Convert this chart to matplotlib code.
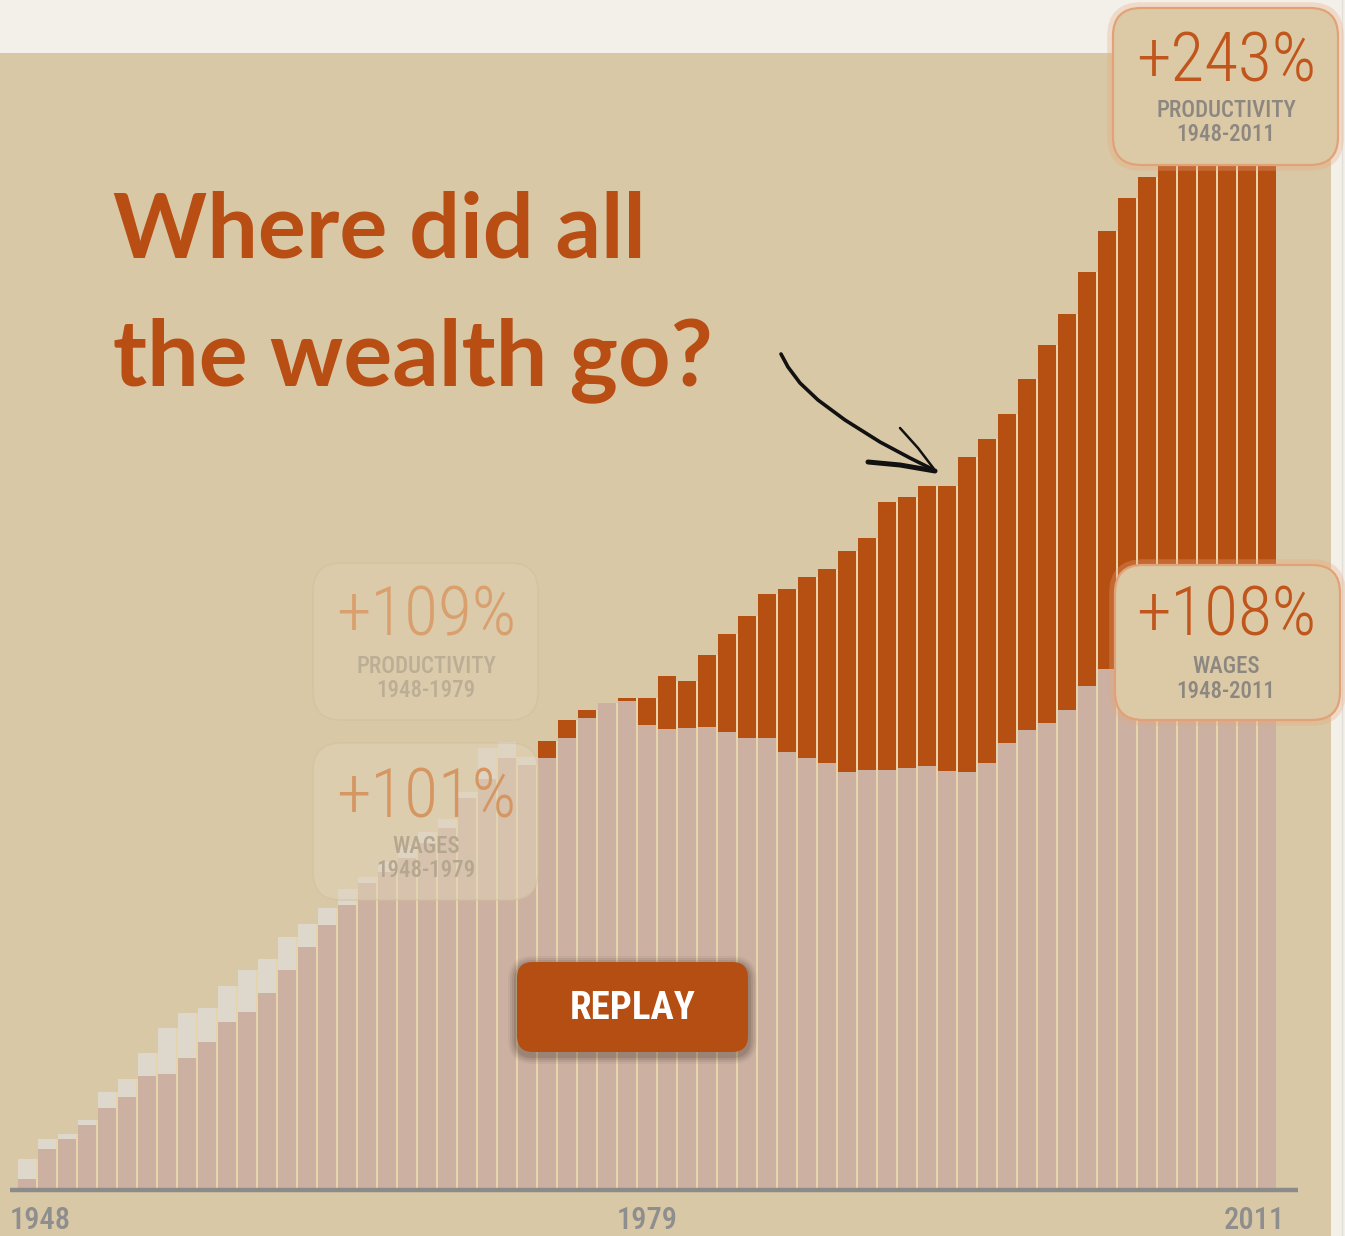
import numpy as np
import matplotlib
matplotlib.use("Agg")
import matplotlib.pyplot as plt
import matplotlib.transforms as mtransforms
from matplotlib.patches import FancyBboxPatch, Rectangle
from matplotlib.lines import Line2D
from matplotlib import font_manager as fm

# ---------------- data (cumulative % growth since 1948) ----------------
years = list(range(1949, 2012))
wages = [1.9, 8.6, 10.8, 13.9, 17.7, 20.3, 24.9, 25.3, 29.0, 32.4,
         36.9, 39.2, 43.4, 48.4, 53.5, 58.4, 62.9, 67.7, 70.2, 73.3,
         76.7, 79.9, 86.6, 91.0, 95.5, 94.0, 95.6, 100.1, 104.4, 107.8,
         108.3, 102.9, 102.0, 102.3, 102.4, 101.4, 100.0, 100.0, 97.0, 95.6,
         94.4, 92.5, 92.8, 93.0, 93.3, 93.8, 92.7, 92.5, 94.4, 98.8,
         101.8, 103.3, 106.2, 111.6, 115.3, 117.0, 118.0, 119.0, 118.0, 117.0,
         114.0, 110.0, 108.0]
productivity = [6.4, 10.8, 11.9, 15.1, 21.3, 24.2, 29.9, 35.6, 39.0, 40.1,
                45.0, 48.4, 50.8, 55.8, 58.7, 62.3, 66.4, 69.2, 72.4, 76.0,
                79.1, 82.0, 88.0, 97.7, 99.2, 95.8, 99.4, 104.0, 106.2, 107.8,
                109.0, 109.0, 113.8, 112.7, 118.4, 123.1, 127.1, 132.0, 133.1, 135.8,
                137.6, 141.6, 144.4, 152.4, 153.6, 156.1, 156.1, 162.4, 166.4, 172.0,
                179.8, 187.3, 194.2, 203.6, 212.7, 220.0, 224.7, 228.0, 231.0, 234.0,
                239.0, 242.0, 243.0]
era_start = 1975            # productivity gap drawn in orange from here on
tick_labels = ["1948", "1979", "2011"]
title_lines = ["Where did all", "the wealth go?"]
callouts = [("+243%", "PRODUCTIVITY", "1948-2011"),
            ("+108%", "WAGES", "1948-2011"),
            ("+109%", "PRODUCTIVITY", "1948-1979"),
            ("+101%", "WAGES", "1948-1979")]
button_label = "REPLAY"

# ---------------- fonts ----------------
names = {f.name for f in fm.fontManager.ttflist}
def pick(cands, default="DejaVu Sans"):
    for c in cands:
        if c in names:
            return c
    return default
title_font = pick(["Lato", "Open Sans", "Roboto"])
cond_font = pick(["Roboto Condensed", "Open Sans Condensed", "Liberation Sans Narrow",
                  "Roboto"])

# ---------------- colours ----------------
BG_TOP = "#F3F0E9"
BG = "#D9C8A6"
WAGE = "#CCB1A2"
GAP_OLD = "#DED7CB"
GAP_NEW = "#B64F12"
TITLE = "#B84E14"
AXIS = "#8B8B8B"
LABEL = "#8E8E8E"
STRIPE = "#E8D6AC"

W, H = 1345, 1236
fig = plt.figure(figsize=(W / 100, H / 100), dpi=100)
fig.patch.set_facecolor(BG_TOP)
pix = mtransforms.Affine2D().scale(1 / W, -1 / H).translate(0, 1) + fig.transFigure

fig.patches.append(Rectangle((0, 53), 1331, H - 53, transform=pix,
                             facecolor=BG, edgecolor="none", zorder=-5))
fig.lines.append(Line2D([1342, 1342], [0, H], transform=pix, color="#E2DFD8", lw=1,
                        zorder=-4))

ax = fig.add_axes([0, 0, 1, 1])
ax.set_facecolor("none")
ax.set_zorder(1)
PXU = 4.5   # pixels per percent
ax.set_xlim(-27 / 20, (W - 27) / 20)
ax.set_ylim(-(H - 1188) / PXU, 1188 / PXU)
ax.axis("off")

x = np.arange(len(years))
wg = np.array(wages)
pr = np.array(productivity)
cols = [GAP_NEW if y >= era_start else GAP_OLD for y in years]
ax.bar(x, wg, width=0.9, color=WAGE, zorder=2, linewidth=0)
ax.bar(x, pr - wg, bottom=wg, width=0.9, color=cols, zorder=2, linewidth=0)
ax.vlines(x[:-1] + 0.5, 0, np.minimum(pr[:-1], pr[1:]), color=STRIPE, lw=1.3, zorder=2.5)
ax.plot([-0.85, 63.55], [-0.45, -0.45], color=AXIS, lw=3.2, solid_capstyle="butt", zorder=3)

# tick labels
ty = -(1229 - 1188) / PXU
tick_kw = dict(va="baseline", fontsize=22, color=LABEL, family=cond_font, fontweight="medium")
ax.text(x[0] - 0.85, ty, tick_labels[0], ha="left", **tick_kw)
ax.text(31.0, ty, tick_labels[1], ha="center", **tick_kw)
ax.text(x[-1] + 0.9, ty, tick_labels[2], ha="right", **tick_kw)

# title
fig.text(113 / W, 1 - 258 / H, title_lines[0], ha="left", va="baseline",
         fontsize=64.5, color=TITLE, family=title_font, fontweight="bold", zorder=10)
fig.text(113 / W, 1 - 385 / H, title_lines[1], ha="left", va="baseline",
         fontsize=66, color=TITLE, family=title_font, fontweight="bold", zorder=10)

# arrow (hand drawn)
shaft_x = [781, 788, 800, 818, 845, 880, 910, 932]
shaft_y = [354, 367, 383, 400, 420, 442, 458, 469]
fig.lines.append(Line2D(shaft_x, shaft_y, transform=pix, color="#111111", lw=2.6,
                        solid_capstyle="round", solid_joinstyle="round", zorder=10))
fig.lines.append(Line2D([868, 900, 935], [462, 465, 471], transform=pix, color="#111111",
                        lw=3.6, solid_capstyle="round", zorder=10))
fig.lines.append(Line2D([900, 918, 934], [428, 448, 469], transform=pix, color="#111111",
                        lw=1.8, solid_capstyle="round", zorder=10))

def rbox(x0, y0, x1, y1, r, fc, ec, lw, alpha=1.0, z=6):
    p = FancyBboxPatch((x0, y0), x1 - x0, y1 - y0,
                       boxstyle=f"round,pad=0,rounding_size={r}", transform=pix,
                       facecolor=fc, edgecolor=ec, lw=lw, alpha=alpha, zorder=z)
    fig.patches.append(p)
    return p

# faded 1948-1979 callouts
rbox(313, 563, 538, 720, 28, "#DECFB0", "#D2BF9B", 1.2, alpha=0.55)
rbox(313, 743, 538, 900, 28, "#E0D3B8", "#D2BF9B", 1.2, alpha=0.5)
# glowing 1948-2011 callouts
for (y0, y1) in [(8, 165), (565, 720)]:
    x0, x1 = (1113, 1338) if y0 < 100 else (1115, 1340)
    rbox(x0 - 3, y0 - 3, x1 + 3, y1 + 3, 31, "none", "#E7A77C", 4, alpha=0.3)
    rbox(x0, y0, x1, y1, 28, "#DCCAA6", "#E2A277", 1.6)

def callout(cx, ys, texts, big_c, small_c, alpha=1.0):
    fig.text(cx / W, 1 - ys[0] / H, texts[0], ha="center", va="baseline",
             fontsize=50, color=big_c, family=cond_font, fontweight="light",
             alpha=alpha, zorder=8)
    for t, yy in zip(texts[1:], ys[1:]):
        fig.text(cx / W, 1 - yy / H, t, ha="center", va="baseline",
                 fontsize=16.5, color=small_c, family=cond_font, fontweight="medium",
                 alpha=alpha, zorder=8)

callout(1226, [82, 117, 141], callouts[0], "#C0561C", "#8C8780")
callout(1226, [636, 673, 698], callouts[1], "#C0561C", "#8C8780")
callout(426, [636, 673, 697], callouts[2], "#D9A06E", "#BBAE95")
callout(426, [817, 853, 877], callouts[3], "#D69661", "#B5A690")

# replay button with shadow
for k, a in [(9, 0.05), (7, 0.07), (5, 0.09), (3, 0.12)]:
    rbox(517 - k, 962 - k + 3, 748 + k, 1052 + k + 3, 16 + k, "#2A1A10", "none", 0,
         alpha=a, z=7)
rbox(517, 962, 748, 1052, 16, "#B54E12", "none", 0, z=7.5)
fig.text(633 / W, 1 - 1019 / H, button_label, ha="center", va="baseline",
         fontsize=28, color="white", family=cond_font, fontweight="bold", zorder=9)

fig.savefig("out.png", dpi=100, facecolor=fig.get_facecolor())
